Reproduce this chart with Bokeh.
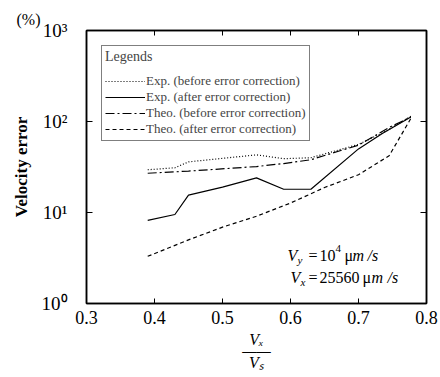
import math
from bokeh.plotting import figure
from bokeh.models import (Label, Legend, LegendItem, LinearAxis, LogAxis, FixedTicker, Range1d,
                          CustomJSTickFormatter, Title)
from bokeh.embed import file_html
from bokeh.resources import INLINE

# ---- data ----
x_ticks = [0.3, 0.4, 0.5, 0.6, 0.7, 0.8]
y_ticks = [1, 10, 100, 1000]
y_tick_labels = ["10\u2070", "10\u00b9", "10\u00b2", "10\u00b3"]

x_exp_before = [0.39, 0.43, 0.45, 0.55, 0.59, 0.63, 0.70, 0.74, 0.777]
y_exp_before = [29.5, 31, 36, 43, 39, 40, 56, 78, 114]

x_exp_after = [0.39, 0.43, 0.45, 0.50, 0.55, 0.59, 0.63, 0.70, 0.735, 0.777]
y_exp_after = [8.2, 9.5, 15.5, 19, 24, 18, 18, 50, 74, 112]

x_theo_before = [0.39, 0.45, 0.55, 0.59, 0.63, 0.70, 0.745, 0.777]
y_theo_before = [27, 28.5, 32, 34.5, 38, 55, 86, 112]

x_theo_after = [0.39, 0.45, 0.50, 0.55, 0.60, 0.65, 0.70, 0.745, 0.777]
y_theo_after = [3.3, 5.0, 6.9, 9.1, 12.7, 18.8, 26, 42, 108]

labels = ["Exp. (before error correction)", "Exp. (after error correction)",
          "Theo. (before error correction)", "Theo. (after error correction)"]

SERIF = "Liberation Serif"

# frame geometry (pixels)
L, R, T, B = 86, 14, 30, 74
W, H = 440, 377
FW, FH = W - L - R, H - T - B


def sx(px):
    return 0.3 + (px - L) / FW * 0.5


def sy(py):
    return 10 ** (3 * (T + FH - py) / FH)


p = figure(width=W, height=H, x_range=Range1d(0.3, 0.8), y_range=Range1d(1, 1000),
           y_axis_type="log", output_backend="svg", toolbar_location=None,
           min_border_left=L, min_border_right=R, min_border_top=T, min_border_bottom=B)
p.xgrid.visible = False
p.ygrid.visible = False
p.outline_line_color = "black"
p.outline_line_width = 1.5
p.background_fill_color = "white"
p.border_fill_color = "white"

# bottom axis
p.xaxis.ticker = FixedTicker(ticks=x_ticks)
p.xaxis.major_tick_in = 5
p.xaxis.major_tick_out = 0
p.xaxis.minor_tick_in = 0
p.xaxis.minor_tick_out = 0
p.xaxis.axis_line_width = 1.5
p.xaxis.major_label_text_font = SERIF
p.xaxis.major_label_text_font_size = "18px"
p.xaxis.major_label_text_color = "black"
p.xaxis.major_label_standoff = 7
p.xaxis.axis_label = "V\u2093\n\u2014\u2014\nV\u209b"
p.xaxis.axis_label_text_font = SERIF
p.xaxis.axis_label_text_font_size = "16px"
p.xaxis.axis_label_text_font_style = "italic"
p.xaxis.axis_label_text_color = "black"
p.xaxis.axis_label_text_line_height = 0.7
p.xaxis.axis_label_standoff = 4

# left axis
p.yaxis.ticker = FixedTicker(ticks=y_ticks)
p.yaxis.major_label_overrides = {t: s for t, s in zip(y_ticks, y_tick_labels)}
p.yaxis.major_label_text_font = SERIF
p.yaxis.major_label_text_font_size = "19px"
p.yaxis.major_label_text_color = "black"
p.yaxis.major_label_standoff = 19
p.yaxis.major_tick_in = 6
p.yaxis.major_tick_out = 0
p.yaxis.minor_tick_in = 0
p.yaxis.minor_tick_out = 0
p.yaxis.axis_line_width = 1.5
p.yaxis.axis_label = "Velocity error"
p.yaxis.axis_label_text_font = SERIF
p.yaxis.axis_label_text_font_size = "17px"
p.yaxis.axis_label_text_font_style = "bold"
p.yaxis.axis_label_text_color = "black"
p.yaxis.axis_label_standoff = 8

top = LinearAxis(ticker=FixedTicker(ticks=x_ticks), formatter=CustomJSTickFormatter(code="return '';"),
                 major_tick_in=5, major_tick_out=0, minor_tick_in=0, minor_tick_out=0,
                 major_label_standoff=0, axis_line_width=1.5)
p.add_layout(top, "above")
right = LogAxis(ticker=FixedTicker(ticks=y_ticks), formatter=CustomJSTickFormatter(code="return '';"),
                major_tick_in=6, major_tick_out=0, minor_tick_in=0, minor_tick_out=0,
                major_label_standoff=0, axis_line_width=1.5)
p.add_layout(right, "right")

unit = Title(text="(%)", align="left", offset=-70, text_font=SERIF, text_font_size="16px",
             text_font_style="normal", text_color="black", standoff=6)
p.add_layout(unit, "above")

r1 = p.line(x_exp_before, y_exp_before, line_color="black", line_width=1.2, line_dash="1 2")
r2 = p.line(x_exp_after, y_exp_after, line_color="black", line_width=1.2)
r3 = p.line(x_theo_before, y_theo_before, line_color="black", line_width=1.2, line_dash="9 3 2 3")
r4 = p.line(x_theo_after, y_theo_after, line_color="black", line_width=1.2, line_dash="4 3")

legend = Legend(items=[LegendItem(label=labels[0], renderers=[r1]),
                       LegendItem(label=labels[1], renderers=[r2]),
                       LegendItem(label=labels[2], renderers=[r3]),
                       LegendItem(label=labels[3], renderers=[r4])],
                location="top_left", title="Legends")
legend.margin = 15
legend.padding = 3
legend.spacing = 0
legend.label_height = 10
legend.glyph_height = 10
legend.glyph_width = 40
legend.label_standoff = 1
legend.label_text_font = SERIF
legend.label_text_font_size = "13px"
legend.title_text_font = SERIF
legend.title_text_font_size = "14px"
legend.title_text_font_style = "normal"
legend.title_standoff = 8
legend.border_line_color = "black"
legend.border_line_width = 1
legend.background_fill_alpha = 1
p.add_layout(legend)


def piece(px, py, txt, size, style="normal", align="left", baseline="alphabetic"):
    p.add_layout(Label(x=sx(px), y=sy(py), text=txt, text_font=SERIF, text_font_size=size,
                       text_font_style=style, text_align=align, text_baseline=baseline,
                       text_color="black"))


# annotation inside the frame
piece(287, 255, "V", "16px", "italic")
piece(297, 259, "y", "11px", "italic")
piece(308, 255, "=", "16px")
piece(319, 255, "10", "16px")
piece(335, 248, "4", "11px")
piece(344, 255, "\u03bc", "16px")
piece(352, 255, "m", "16px", "italic")
piece(367, 255, "/s", "16px", "italic")

piece(290, 277, "V", "16px", "italic")
piece(300, 281, "x", "11px", "italic")
piece(308, 277, "=", "16px")
piece(319, 277, "25560", "16px")
piece(362, 277, "\u03bc", "16px")
piece(371, 277, "m", "16px", "italic")
piece(387, 277, "/s", "16px", "italic")

open("out.html", "w").write(file_html(p, INLINE))
